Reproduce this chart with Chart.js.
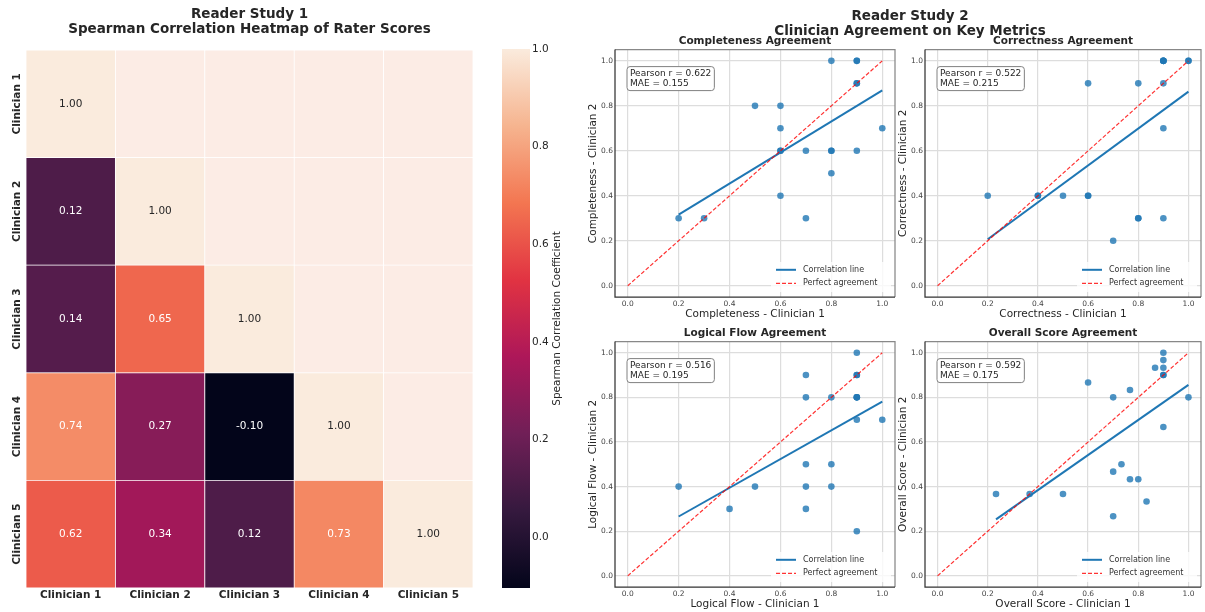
<!DOCTYPE html>
<html>
<head>
<meta charset="utf-8">
<title>Reader Studies</title>
<script src="https://cdn.jsdelivr.net/npm/chart.js@4.4.1/dist/chart.umd.min.js"></script>
<style>
  html, body { margin: 0; padding: 0; background: #ffffff; }
  #wrap { position: relative; width: 1205px; height: 612px; overflow: hidden; font-family: "DejaVu Sans", sans-serif; }
  canvas { position: absolute; }
  #suptitle {
    position: absolute; left: 610px; top: 7.5px; width: 600px;
    text-align: center; font-weight: bold; font-size: 13.5px; line-height: 15px; color: #262626;
  }
</style>
</head>
<body>
<div id="wrap">
  <canvas id="heat" width="500" height="612" style="left:0;top:0"></canvas>
  <canvas id="cbar" width="85" height="612" style="left:495px;top:0"></canvas>
  <canvas id="p1" width="320" height="292" style="left:585px;top:30px"></canvas>
  <canvas id="p2" width="310" height="292" style="left:895px;top:30px"></canvas>
  <canvas id="p3" width="320" height="290" style="left:585px;top:322px"></canvas>
  <canvas id="p4" width="310" height="290" style="left:895px;top:322px"></canvas>
  <div id="suptitle">Reader Study 2<br>Clinician Agreement on Key Metrics</div>
</div>

<script>
// ---------------- data ----------------
const raters = ["Clinician 1", "Clinician 2", "Clinician 3", "Clinician 4", "Clinician 5"];

// Spearman matrix, lower triangle only (null = masked cell)
const rhoC1 = [1.00, null, null, null, null];
const rhoC2 = [0.12, 1.00, null, null, null];
const rhoC3 = [0.14, 0.65, 1.00, null, null];
const rhoC4 = [0.74, 0.27, -0.104, 1.00, null];
const rhoC5 = [0.62, 0.34, 0.12, 0.73, 1.00];

const cbarTicks = [0.0, 0.2, 0.4, 0.6, 0.8, 1.0];
const scoreTicks = [0.0, 0.2, 0.4, 0.6, 0.8, 1.0];

// Reader study 2 : clinician 1 (x) vs clinician 2 (y)
const complC1 = [0.2, 0.3, 0.5, 0.6, 0.6, 0.6, 0.6, 0.6, 0.7, 0.7, 0.8, 0.8, 0.8, 0.8, 0.9, 0.9, 0.9, 0.9, 0.9, 1.0];
const complC2 = [0.3, 0.3, 0.8, 0.8, 0.7, 0.6, 0.6, 0.4, 0.6, 0.3, 1.0, 0.6, 0.6, 0.5, 1.0, 1.0, 0.9, 0.9, 0.6, 0.7];

const corrC1 = [0.2, 0.4, 0.4, 0.5, 0.6, 0.6, 0.6, 0.7, 0.8, 0.8, 0.8, 0.9, 0.9, 0.9, 0.9, 0.9, 0.9, 0.9, 1.0, 1.0];
const corrC2 = [0.4, 0.4, 0.4, 0.4, 0.9, 0.4, 0.4, 0.2, 0.9, 0.3, 0.3, 1.0, 1.0, 1.0, 1.0, 0.9, 0.7, 0.3, 1.0, 1.0];

const flowC1 = [0.2, 0.4, 0.5, 0.7, 0.7, 0.7, 0.7, 0.7, 0.8, 0.8, 0.8, 0.9, 0.9, 0.9, 0.9, 0.9, 0.9, 0.9, 0.9, 1.0];
const flowC2 = [0.4, 0.3, 0.4, 0.9, 0.8, 0.5, 0.4, 0.3, 0.8, 0.5, 0.4, 1.0, 0.9, 0.9, 0.8, 0.8, 0.8, 0.7, 0.2, 0.7];

const overallC1 = [0.233, 0.367, 0.5, 0.6, 0.7, 0.7, 0.7, 0.733, 0.767, 0.767, 0.8, 0.833, 0.867, 0.9, 0.9, 0.9, 0.9, 0.9, 0.9, 1.0];
const overallC2 = [0.367, 0.367, 0.367, 0.867, 0.8, 0.467, 0.267, 0.5, 0.833, 0.433, 0.433, 0.333, 0.933, 1.0, 0.967, 0.933, 0.9, 0.9, 0.667, 0.8];

// fitted correlation lines (end points)
const complFitX = [0.2, 1.0],   complFitY = [0.316, 0.869];
const corrFitX = [0.2, 1.0],    corrFitY = [0.207, 0.863];
const flowFitX = [0.2, 1.0],    flowFitY = [0.266, 0.781];
const overallFitX = [0.233, 1.0], overallFitY = [0.253, 0.856];
const perfectLine = [0, 1];

const pearsonR = [0.622, 0.522, 0.516, 0.592];
const maeVals = [0.155, 0.215, 0.195, 0.175];

// ---------------- helpers ----------------
const FONT = "DejaVu Sans";
const TXT = "#262626";
const maskColor = "#fcece5";

// seaborn "rocket" colormap, sampled
const rocketStops = [
  [0, "#03051a"], [1 / 7, "#35193e"], [2 / 7, "#701f57"], [3 / 7, "#ad1759"],
  [4 / 7, "#e13342"], [5 / 7, "#f37651"], [6 / 7, "#f6b48f"], [1, "#faebdd"]
];

function hexRgb(h) {
  return [parseInt(h.slice(1, 3), 16), parseInt(h.slice(3, 5), 16), parseInt(h.slice(5, 7), 16)];
}

function rocket(t) {
  t = Math.max(0, Math.min(1, t));
  for (let i = 1; i < rocketStops.length; i++) {
    const [p1, c1] = rocketStops[i - 1];
    const [p2, c2] = rocketStops[i];
    if (t <= p2) {
      const f = (t - p1) / (p2 - p1);
      const a = hexRgb(c1), b = hexRgb(c2);
      return a.map((v, k) => Math.round(v + (b[k] - v) * f));
    }
  }
  return hexRgb(rocketStops[rocketStops.length - 1][1]);
}

function luminance(rgb) {
  const lin = rgb.map(v => {
    v = v / 255;
    return v <= 0.03928 ? v / 12.92 : Math.pow((v + 0.055) / 1.055, 2.4);
  });
  return 0.2126 * lin[0] + 0.7152 * lin[1] + 0.0722 * lin[2];
}

// ---------------- heatmap ----------------
const heatRows = [rhoC1, rhoC2, rhoC3, rhoC4, rhoC5];
const allVals = heatRows.flat().filter(v => v !== null);
const vmin = Math.min(...allVals);
const vmax = Math.max(...allVals);

const heatDatasets = heatRows.map((row, r) => ({
  label: raters[r],
  rowValues: row,
  data: row.map(() => 1),
  backgroundColor: row.map(v => v === null ? maskColor : "rgb(" + rocket((v - vmin) / (vmax - vmin)).join(",") + ")"),
  borderColor: "#ffffff",
  borderWidth: 0.75,
  borderSkipped: false,
  barPercentage: 1,
  categoryPercentage: 1
})).reverse(); // first dataset sits at the bottom of the stack

const heatText = {
  id: "heatText",
  afterDatasetsDraw(chart) {
    const ctx = chart.ctx;
    ctx.save();
    chart.data.datasets.forEach((ds, i) => {
      const meta = chart.getDatasetMeta(i);
      meta.data.forEach((el, j) => {
        const v = ds.rowValues[j];
        if (v === null) return;
        const rgb = rocket((v - vmin) / (vmax - vmin));
        ctx.fillStyle = luminance(rgb) > 0.408 ? TXT : "#ffffff";
        ctx.font = "10.5px " + FONT;
        ctx.textAlign = "center";
        ctx.textBaseline = "middle";
        ctx.fillText(v.toFixed(2), el.x, (el.y + el.base) / 2);
      });
      // row label, rotated
      const el0 = meta.data[0];
      ctx.save();
      ctx.translate(chart.chartArea.left - 9, (el0.y + el0.base) / 2);
      ctx.rotate(-Math.PI / 2);
      ctx.fillStyle = TXT;
      ctx.font = "bold 10.5px " + FONT;
      ctx.textAlign = "center";
      ctx.textBaseline = "middle";
      ctx.fillText(ds.label, 0, 0);
      ctx.restore();
    });
    ctx.restore();
  }
};

new Chart(document.getElementById("heat"), {
  type: "bar",
  data: { labels: raters, datasets: heatDatasets },
  options: {
    responsive: false,
    animation: false,
    layout: { padding: { left: 26, right: 27, top: 0, bottom: 0 } },
    plugins: {
      legend: { display: false },
      tooltip: { enabled: false },
      title: {
        display: true,
        text: ["Reader Study 1", "Spearman Correlation Heatmap of Rater Scores"],
        color: TXT,
        font: { family: FONT, size: 13.5, weight: "bold", lineHeight: 1.111 },
        padding: { top: 7.5, bottom: 12.5 }
      }
    },
    scales: {
      x: {
        stacked: true,
        grid: { display: false, drawTicks: false },
        border: { display: false },
        ticks: { color: TXT, font: { family: FONT, size: 10.5, weight: "bold" }, padding: 1 },
        afterFit: s => { s.height = 24; }
      },
      y: { stacked: true, display: false, min: 0, max: raters.length }
    }
  },
  plugins: [heatText]
});

// ---------------- colorbar ----------------
function cbarFill(c) {
  const chart = c.chart;
  if (!chart.chartArea) return maskColor;
  const ys = chart.scales.y;
  const g = chart.ctx.createLinearGradient(0, ys.getPixelForValue(vmin), 0, ys.getPixelForValue(vmax));
  rocketStops.forEach(([p, col]) => g.addColorStop(p, col));
  return g;
}

const cbarTitle = {
  id: "cbarTitle",
  afterDraw(chart) {
    const { ctx, chartArea } = chart;
    ctx.save();
    ctx.translate(chartArea.right + 27, (chartArea.top + chartArea.bottom) / 2);
    ctx.rotate(-Math.PI / 2);
    ctx.fillStyle = TXT;
    ctx.font = "10.5px " + FONT;
    ctx.textAlign = "center";
    ctx.textBaseline = "middle";
    ctx.fillText("Spearman Correlation Coefficient", 0, 0);
    ctx.restore();
  }
};

new Chart(document.getElementById("cbar"), {
  type: "bar",
  data: {
    labels: [""],
    datasets: [{ data: [[vmin, vmax]], backgroundColor: cbarFill, borderWidth: 0, barPercentage: 1, categoryPercentage: 1 }]
  },
  options: {
    responsive: false,
    animation: false,
    layout: { padding: { left: 7, right: 0, top: 49, bottom: 24 } },
    plugins: { legend: { display: false }, tooltip: { enabled: false } },
    scales: {
      x: { display: false },
      y: {
        position: "right",
        min: vmin,
        max: vmax,
        grid: { display: false, drawTicks: false },
        border: { display: false },
        afterBuildTicks: s => { s.ticks = cbarTicks.map(v => ({ value: v })); },
        ticks: { color: TXT, font: { family: FONT, size: 10.5 }, padding: 2, callback: v => v.toFixed(1) },
        afterFit: s => { s.width = 50; }
      }
    }
  },
  plugins: [cbarTitle]
});

// ---------------- scatter panels ----------------
const panels = [
  { id: "p1", metric: "Completeness", c1: complC1, c2: complC2, fitX: complFitX, fitY: complFitY, r: pearsonR[0], mae: maeVals[0], padR: 10 },
  { id: "p2", metric: "Correctness", c1: corrC1, c2: corrC2, fitX: corrFitX, fitY: corrFitY, r: pearsonR[1], mae: maeVals[1], padR: 1 },
  { id: "p3", metric: "Logical Flow", c1: flowC1, c2: flowC2, fitX: flowFitX, fitY: flowFitY, r: pearsonR[2], mae: maeVals[2], padR: 10 },
  { id: "p4", metric: "Overall Score", c1: overallC1, c2: overallC2, fitX: overallFitX, fitY: overallFitY, r: pearsonR[3], mae: maeVals[3], padR: 1 }
];

// frame, stats box and legend drawn inside the plot area
const panelDecor = {
  id: "panelDecor",
  afterDraw(chart, args, opts) {
    const { ctx, chartArea } = chart;
    const { left, top, right, bottom } = chartArea;
    ctx.save();

    // spines
    ctx.lineWidth = 1.25;
    ctx.strokeStyle = "#888888";
    ctx.beginPath();
    ctx.moveTo(left, top); ctx.lineTo(right, top); ctx.lineTo(right, bottom);
    ctx.stroke();
    ctx.strokeStyle = "#333333";
    ctx.beginPath();
    ctx.moveTo(left, top); ctx.lineTo(left, bottom); ctx.lineTo(right, bottom);
    ctx.stroke();

    // stats box
    const lines = ["Pearson r = " + opts.r.toFixed(3), "MAE = " + opts.mae.toFixed(3)];
    ctx.font = "9px " + FONT;
    const w = Math.max(...lines.map(l => ctx.measureText(l).width)) + 6;
    const bx = left + 12, by = top + 17, bh = 24;
    ctx.beginPath();
    ctx.roundRect(bx, by, w, bh, 3);
    ctx.fillStyle = "#ffffff";
    ctx.fill();
    ctx.lineWidth = 1;
    ctx.strokeStyle = "#808080";
    ctx.stroke();
    ctx.fillStyle = TXT;
    ctx.textAlign = "left";
    ctx.textBaseline = "middle";
    lines.forEach((l, i) => ctx.fillText(l, bx + 3, by + 6.6 + i * 10));

    // legend, lower right
    const items = chart.data.datasets.filter(d => d.type === "line");
    ctx.fillStyle = "rgba(255,255,255,0.8)";
    ctx.beginPath();
    ctx.roundRect(right - 124, bottom - 35, 120, 30, 3);
    ctx.fill();
    ctx.font = "8px " + FONT;
    items.forEach((d, i) => {
      const y = bottom - 27.2 + i * 13.6;
      ctx.strokeStyle = d.borderColor;
      ctx.lineWidth = d.borderWidth;
      ctx.setLineDash(d.borderDash || []);
      ctx.beginPath();
      ctx.moveTo(right - 119, y);
      ctx.lineTo(right - 99, y);
      ctx.stroke();
      ctx.setLineDash([]);
      ctx.fillStyle = "#333333";
      ctx.fillText(d.label, right - 92, y);
    });
    ctx.restore();
  }
};

function axisOpts(titleText, isX) {
  return {
    type: "linear",
    min: -0.05,
    max: 1.05,
    grid: { color: "#dddddd", lineWidth: 1.2, drawTicks: false },
    border: { display: false },
    afterBuildTicks: s => { s.ticks = scoreTicks.map(v => ({ value: v })); },
    ticks: { color: "#444444", font: { family: FONT, size: 7.5 }, padding: isX ? 2.5 : 2, callback: v => v.toFixed(1) },
    title: {
      display: true,
      text: titleText,
      color: TXT,
      font: { family: FONT, size: 10.5 },
      padding: isX ? { top: 0, bottom: 1 } : { top: 2, bottom: 0 }
    },
    afterFit: s => { if (isX) s.height = 25; else s.width = 30; }
  };
}

panels.forEach(p => {
  new Chart(document.getElementById(p.id), {
    type: "scatter",
    data: {
      datasets: [
        {
          type: "scatter",
          label: "Ratings",
          data: p.c1.map((x, i) => ({ x: x, y: p.c2[i] })),
          backgroundColor: "rgba(31,119,180,0.8)",
          borderWidth: 0,
          pointRadius: 3.3,
          order: 3
        },
        {
          type: "line",
          label: "Correlation line",
          data: p.fitX.map((x, i) => ({ x: x, y: p.fitY[i] })),
          borderColor: "#1f77b4",
          borderWidth: 2,
          pointRadius: 0,
          fill: false,
          order: 2
        },
        {
          type: "line",
          label: "Perfect agreement",
          data: perfectLine.map(v => ({ x: v, y: v })),
          borderColor: "rgba(255,0,0,0.8)",
          borderWidth: 1.2,
          borderDash: [4, 2],
          pointRadius: 0,
          fill: false,
          order: 1
        }
      ]
    },
    options: {
      responsive: false,
      animation: false,
      layout: { padding: { left: 0, right: p.padR, top: 0, bottom: 0 } },
      plugins: {
        legend: { display: false },
        tooltip: { enabled: false },
        title: {
          display: true,
          text: p.metric + " Agreement",
          fullSize: false,
          color: TXT,
          font: { family: FONT, size: 10.5, weight: "bold" },
          padding: { top: 5, bottom: 2 }
        },
        panelDecor: { r: p.r, mae: p.mae }
      },
      scales: {
        x: axisOpts(p.metric + " - Clinician 1", true),
        y: axisOpts(p.metric + " - Clinician 2", false)
      }
    },
    plugins: [panelDecor]
  });
});
</script>
</body>
</html>
